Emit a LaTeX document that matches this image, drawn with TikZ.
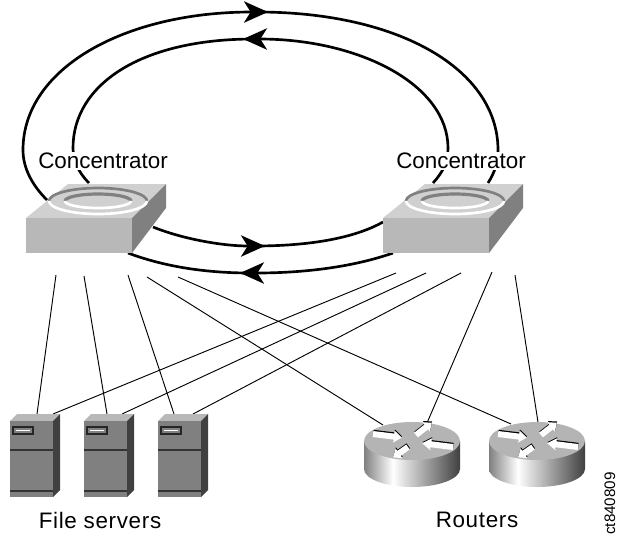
\documentclass[tikz,border=0pt]{standalone}
\usepackage{fontspec}
\setmainfont{Liberation Sans}
\usetikzlibrary{arrows.meta}
\definecolor{concTop}{HTML}{D0D0D0}
\definecolor{concFront}{HTML}{B8B8B8}
\definecolor{concSide}{HTML}{808080}
\definecolor{srvTop}{HTML}{B8B8B8}
\definecolor{srvFront}{HTML}{808080}
\definecolor{srvSide}{HTML}{404040}
\definecolor{routerTop}{HTML}{B4B4B4}
\pgfdeclarehorizontalshading{routerside}{100bp}{color(0bp)=(concSide); color(25bp)=(concSide); color(40bp)=(white); color(75bp)=(srvSide); color(100bp)=(srvSide)}
\tikzset{
    ringline/.style={line width=2pt},
    ringtip/.style={-{Stealth[length=18pt,width=16pt,inset=5pt]}},
    ringrest/.style={line width=2pt, shorten <=-8pt},
    thinlink/.style={line width=0.7pt},
    devlabel/.style={font=\fontsize{16.8}{18}\selectfont, inner sep=1pt},
    spacedlabel/.style={font=\fontsize{16.8}{18}\selectfont\addfontfeature{LetterSpace=3}, inner sep=1pt},
    concentrator/.pic={
        \fill[concTop] (0,0) -- (42,-34) -- (140,-34) -- (106,0) -- cycle;
        \fill[concFront] (0,0) rectangle (106,35);
        \fill[concSide] (106,0) -- (140,-34) -- (140,-10) -- (106,35) -- cycle;
        % Grooves
        \draw[concSide, line width=2pt] (23,-17) arc[start angle=180, end angle=360, x radius=49, y radius=13];
        \draw[white, line width=2pt] (23,-17) arc[start angle=180, end angle=0, x radius=49, y radius=13];
        \draw[concSide, line width=2.4pt] (39,-17) arc[start angle=180, end angle=360, x radius=33, y radius=7];
        \draw[white, line width=2pt] (39,-17) arc[start angle=180, end angle=0, x radius=33, y radius=7];
    },
    fileserver/.pic={
        \fill[srvTop] (0,0) -- (7,-7) -- (50,-7) -- (43,0) -- cycle;
        \fill[srvFront] (0,0) rectangle (43,76);
        \fill[srvSide] (43,0) -- (50,-7) -- (50,69) -- (43,76) -- cycle;
        \draw[black!80, line width=1.3pt] (0,29) -- (43,29);
        \draw[black!80, line width=1.3pt] (0,70) -- (43,70);
        \draw[black!85, line width=0.8pt, fill=srvFront] (3,6) rectangle (23,13);
        \draw[white, line width=0.8pt] (6,9.5) -- (20,9.5);
    },
    router/.pic={
        \shade[shading=routerside] (-48,0) -- (-48,28) arc[start angle=180, end angle=0, x radius=48, y radius=18] -- (48,0) -- cycle;
        \fill[routerTop] (0,0) ellipse[x radius=48, y radius=19];
        % Arrows
        \foreach \ax/\ay/\ang/\len/\hd in {-39/-7/-7/29/8, 4/-6/38/20/7, -4/6/215/18/7, 41/6/173/31/9}{
            \fill[black, shift={(\ax+.3,\ay-1.2)}, rotate=\ang] (0,-3) -- (\len-\hd,-3) -- (\len-\hd,-6) -- (\len,0) -- (\len-\hd,6) -- (\len-\hd,3) -- (0,3) -- cycle;
            \fill[white, shift={(\ax,\ay)}, rotate=\ang] (0,-3) -- (\len-\hd,-3) -- (\len-\hd,-6) -- (\len,0) -- (\len-\hd,6) -- (\len-\hd,3) -- (0,3) -- cycle;
        }
    }
}
\begin{document}
\begin{tikzpicture}[x=0.75pt, y=-0.75pt]
    \useasboundingbox (0,0) rectangle (618,537);

    % End points of the ring
    \foreach \n/\x/\y in {outA/47/200, outTip/268/12, outB/488/183, innA/433/183, innTip/243/39, innB/89/183,
                          lowA/153/227, lowTip/265/246, lowB/383/222, botA/393/253, botTip/240/273, botB/128/253}
        \coordinate (\n) at (\x,\y);

    % End points of the thin links
    \foreach \n/\x/\y in {cl1/56/275, cl2/84/276, cl3/128/275, cl4/147/277, cl5/178/277,
                          cr1/396/273, cr2/426/273, cr3/461/273, cr4/492/272, cr5/515/275,
                          fsa1/37/414, fsa2/107/414, fsa3/174/414, fsb1/53/414, fsb2/122/414, fsb3/193/414,
                          rta1/383/425, rta2/511/424, rtb1/427/423, rtb2/538/422}
        \coordinate (\n) at (\x,\y);

    % Draw ring
    \draw[ringline, ringtip] (outA) .. controls (32,185) and (23,168) .. (23,150) .. controls (23,68) and (125,12) .. (outTip);
    \draw[ringrest] (outTip) .. controls (400,12) and (498,70) .. (498,150) .. controls (498,162) and (495,172) .. (outB);
    \draw[ringline, ringtip] (innA) .. controls (443,172) and (448,162) .. (448,148) .. controls (448,85) and (360,39) .. (innTip);
    \draw[ringrest] (innTip) .. controls (140,39) and (73,85) .. (73,148) .. controls (73,160) and (78,172) .. (innB);
    \draw[ringline, ringtip] (lowA) .. controls (180,238) and (220,246) .. (lowTip);
    \draw[ringrest] (lowTip) .. controls (320,246) and (360,235) .. (lowB);
    \draw[ringline, ringtip] (botA) .. controls (350,268) and (300,273) .. (botTip);
    \draw[ringrest] (botTip) .. controls (200,273) and (160,265) .. (botB);

    % Draw links
    \foreach \a/\b in {cl1/fsa1, cl2/fsa2, cl3/fsa3, cl4/rta1, cl5/rta2, cr1/fsb1, cr2/fsb2, cr3/fsb3, cr4/rtb1, cr5/rtb2}
        \draw[thinlink] (\a) -- (\b);

    % Devices
    \foreach \x in {26, 383}
        \pic at (\x,218) {concentrator};
    \foreach \x in {10, 84, 158}
        \pic at (\x,421) {fileserver};
    \foreach \x in {412, 537}
        \pic at (\x,441) {router};

    % Labels
    \node[devlabel, fill=white] (concL) at (103,161) {Concentrator};
    \node[devlabel, fill=white] (concR) at (461,161) {Concentrator};
    \node[spacedlabel] (fsLabel) at (100,520) {File servers};
    \node[spacedlabel] (rtLabel) at (477,520) {Routers};
    \node[rotate=90, anchor=base east, inner sep=0pt, font=\fontsize{11.4}{12}\selectfont] (figId) at (615,472) {ct840809};
\end{tikzpicture}
\end{document}
